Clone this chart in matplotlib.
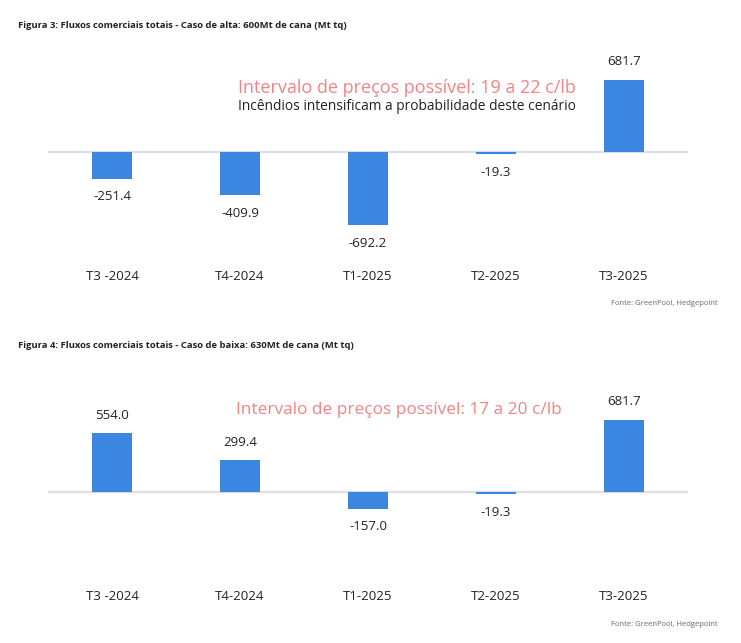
import matplotlib.pyplot as plt

plt.rcParams['font.family'] = ['Open Sans', 'DejaVu Sans']

categories = ['T3 -2024', 'T4-2024', 'T1-2025', 'T2-2025', 'T3-2025']
alta_values = [-251.4, -409.9, -692.2, -19.3, 681.7]
baixa_values = [554.0, 299.4, -157.0, -19.3, 681.7]

title_alta = 'Figura 3: Fluxos comerciais totais - Caso de alta: 600Mt de cana (Mt tq)'
title_baixa = 'Figura 4: Fluxos comerciais totais - Caso de baixa: 630Mt de cana (Mt tq)'
note_alta = 'Intervalo de preços possível: 19 a 22 c/lb'
note_alta2 = 'Incêndios intensificam a probabilidade deste cenário'
note_baixa = 'Intervalo de preços possível: 17 a 20 c/lb'
source = 'Fonte: GreenPool, Hedgepoint'

W, H = 741, 643
bar_color = '#3A86E0'
pink = '#F58383'
px_per_unit = 1 / 9.47

fig = plt.figure(figsize=(W / 100, H / 100), dpi=100)


def make_panel(top_px, bottom_px, zero_px, values):
    ax = fig.add_axes([48 / W, 1 - bottom_px / H, 640 / W, (bottom_px - top_px) / H])
    x = range(len(categories))
    ax.axhline(0, color='#DEDEDE', lw=1.6, zorder=1)
    ax.bar(x, values, width=0.31, color=bar_color, zorder=2)
    ax.set_xlim(-0.5, 4.5)
    ax.set_ylim(-(bottom_px - zero_px) / px_per_unit, (zero_px - top_px) / px_per_unit)
    for xi, v in zip(x, values):
        off = 13 if v >= 0 else -13
        ax.annotate(f'{v:.1f}', (xi, v), xytext=(0, off), textcoords='offset points',
                    ha='center', va='center', fontsize=9.5, color='#222222')
    ax.set_xticks(list(x))
    ax.set_xticklabels(categories, fontsize=9.5, color='#222222')
    ax.tick_params(axis='x', length=0, pad=6)
    ax.set_yticks([])
    for s in ax.spines.values():
        s.set_visible(False)
    return ax


ax1 = make_panel(40, 262, 152, alta_values)
ax2 = make_panel(380, 582, 492, baixa_values)

fig.text(18 / W, 1 - 25 / H, title_alta, fontsize=6.8, fontweight='bold', color='#222222', va='center')
fig.text(18 / W, 1 - 345 / H, title_baixa, fontsize=6.8, fontweight='bold', color='#222222', va='center')

fig.text(407 / W, 1 - 88 / H, note_alta, fontsize=13, color=pink, ha='center', va='center')
fig.text(407 / W, 1 - 106 / H, note_alta2, fontsize=9.9, color='#222222', ha='center', va='center')
fig.text(399 / W, 1 - 410 / H, note_baixa, fontsize=12.4, color=pink, ha='center', va='center')

fig.text(718 / W, 1 - 304 / H, source, fontsize=5.5, color='#666677', ha='right', va='center')
fig.text(718 / W, 1 - 625 / H, source, fontsize=5.5, color='#666677', ha='right', va='center')

fig.savefig('out.png', dpi=100, facecolor='white')
